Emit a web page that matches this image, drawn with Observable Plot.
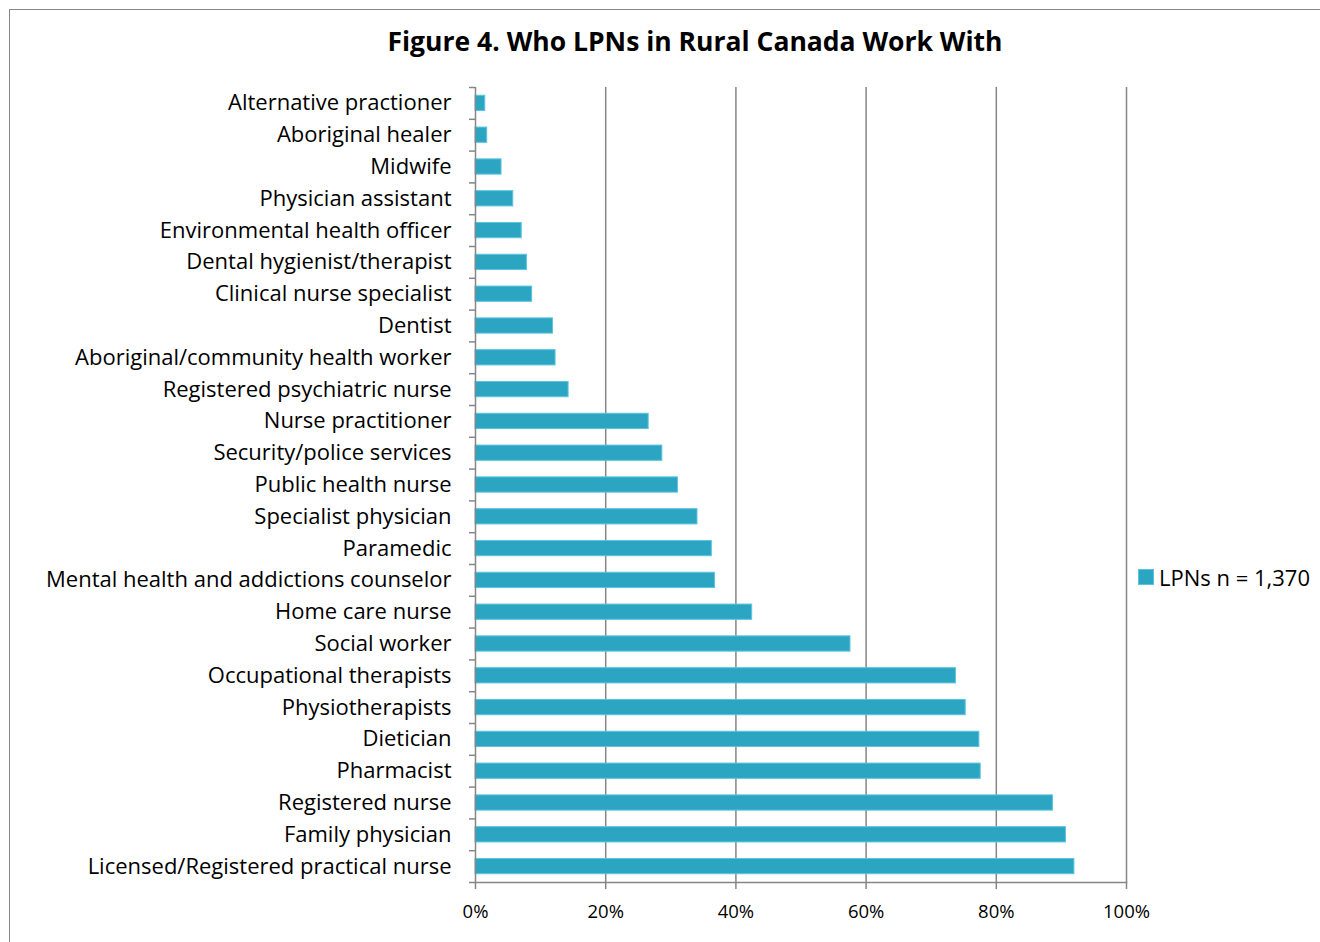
<!DOCTYPE html>
<html>
<head>
<meta charset="utf-8">
<script src="https://cdn.jsdelivr.net/npm/d3@7"></script>
<script src="https://cdn.jsdelivr.net/npm/@observablehq/plot@0.6"></script>
<style>
  html, body { margin: 0; padding: 0; background: #fff; }
  #wrap { position: relative; width: 1320px; height: 942px; overflow: hidden; font-family: "Open Sans", sans-serif; }
  #frame { position: absolute; left: 9px; top: 9px; width: 1400px; height: 1000px; border: 1.5px solid #868686; box-sizing: border-box; }
  #title { position: absolute; left: 0; width: 1390px; top: 22px; text-align: center; font-weight: bold; font-size: 26.5px; line-height: 38px; color: #000; }
  #legend { position: absolute; left: 1138px; top: 562px; font-size: 22px; line-height: 30px; display: flex; align-items: center; gap: 5px; color: #000; }
  #legend .sw { width: 16px; height: 16px; background: #2ca5c3; border: 1px solid #5bc4dd; box-sizing: border-box; }
  #chart { position: absolute; left: 0; top: 0; }
</style>
</head>
<body>
<div id="wrap">
  <div id="frame"></div>
  <div id="chart"></div>
  <div id="title">Figure 4. Who LPNs in Rural Canada Work With</div>
  <div id="legend"><div class="sw"></div><span>LPNs n = 1,370</span></div>
</div>
<script>
const categories = [
  "Alternative practioner",
  "Aboriginal healer",
  "Midwife",
  "Physician assistant",
  "Environmental health officer",
  "Dental hygienist/therapist",
  "Clinical nurse specialist",
  "Dentist",
  "Aboriginal/community health worker",
  "Registered psychiatric nurse",
  "Nurse practitioner",
  "Security/police services",
  "Public health nurse",
  "Specialist physician",
  "Paramedic",
  "Mental health and addictions counselor",
  "Home care nurse",
  "Social worker",
  "Occupational therapists",
  "Physiotherapists",
  "Dietician",
  "Pharmacist",
  "Registered nurse",
  "Family physician",
  "Licensed/Registered practical nurse"
];
const values = [
  0.015, 0.018, 0.040, 0.058, 0.071, 0.079, 0.087, 0.119, 0.123, 0.143,
  0.266, 0.287, 0.311, 0.341, 0.363, 0.368, 0.425, 0.576,
  0.738, 0.753, 0.774, 0.776, 0.887, 0.907, 0.920
];
const xTicks = [0, 0.2, 0.4, 0.6, 0.8, 1.0];
const xTickLabels = ["0%", "20%", "40%", "60%", "80%", "100%"];
const seriesName = "LPNs n = 1,370";

const data = categories.map((c, i) => ({category: c, value: values[i], series: seriesName}));

const W = 1320, H = 942, mT = 87, mB = 60, mL = 475, mR = 194;
const step = (H - mT - mB) / categories.length;
const gray = "#868686";

const chart = Plot.plot({
  width: W, height: H,
  marginTop: mT, marginBottom: mB, marginLeft: mL, marginRight: mR,
  style: {fontFamily: "'Open Sans', sans-serif", background: "transparent", color: "#000"},
  x: {domain: [0, 1], ticks: xTicks, tickFormat: d => xTickLabels[xTicks.indexOf(d)] ?? "", label: null},
  y: {domain: categories, paddingInner: 0.52, paddingOuter: 0.26, round: false, label: null},
  marks: [
    Plot.ruleX(xTicks.slice(1), {stroke: gray, strokeWidth: 1.5}),
    Plot.barX(data, {x: "value", y: "category", fill: "#2ca5c3", stroke: "#5cc5de", strokeWidth: 1}),
    Plot.ruleX([0], {stroke: gray, strokeWidth: 1.5}),
    Plot.frame({anchor: "bottom", stroke: gray, strokeWidth: 1.5}),
    Plot.axisX({ticks: xTicks, tickSize: 7, text: null, stroke: gray, strokeWidth: 1.5}),
    Plot.axisX({ticks: xTicks, tickSize: 0, tickPadding: 22, fontSize: 18.5, fill: "#000",
                tickFormat: d => xTickLabels[xTicks.indexOf(d)] ?? "", label: null}),
    Plot.axisY({tickSize: 6, text: null, stroke: gray, strokeWidth: 1.5, dy: -step / 2}),
    Plot.axisY({ticks: [categories[categories.length - 1]], tickSize: 6, text: null, stroke: gray, strokeWidth: 1.5, dy: step / 2}),
    Plot.axisY({tickSize: 0, tickPadding: 24, fontSize: 22, fill: "#000", label: null})
  ]
});
document.getElementById("chart").appendChild(chart);
</script>
</body>
</html>
